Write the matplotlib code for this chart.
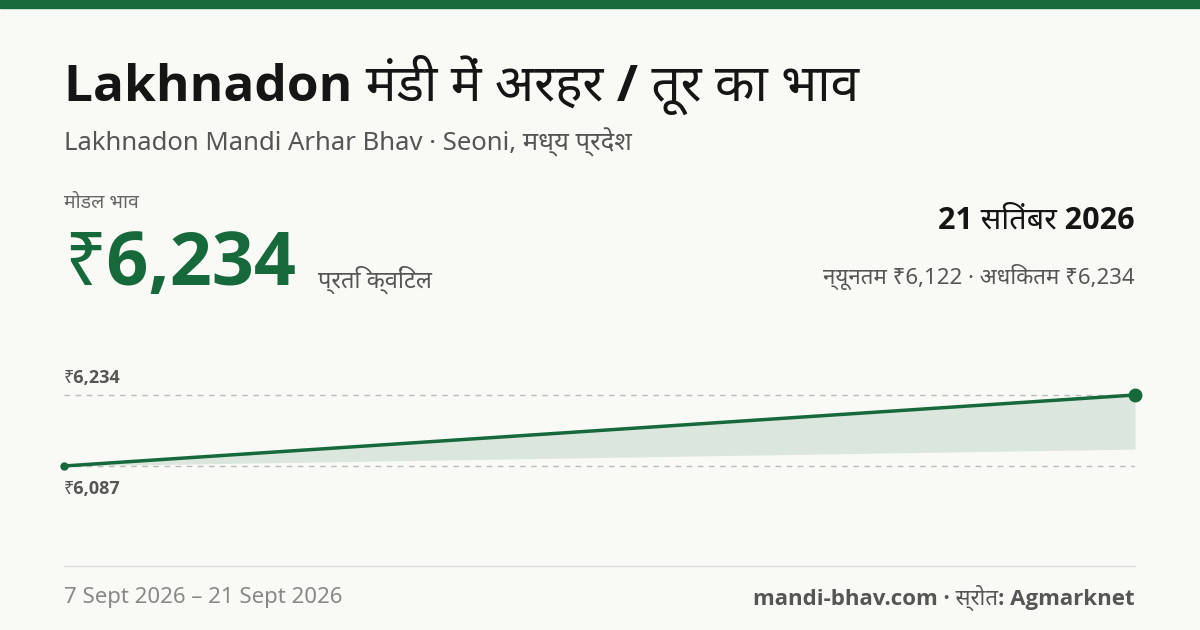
import matplotlib
matplotlib.use("Agg")
import matplotlib.pyplot as plt
import numpy as np
import logging
logging.getLogger('matplotlib.font_manager').setLevel(logging.ERROR)

dates = ["7 Sept 2026", "21 Sept 2026"]
day_offsets = [0, 14]
modal = [6087, 6234]
minimum = [6087, 6122]
max_latest = 6234

FAM = ['Noto Sans', 'DejaVu Sans']
BFAM = ['Open Sans', 'Noto Sans', 'DejaVu Sans']
plt.rcParams['font.family'] = FAM
GREEN = '#16693a'
BG = '#f9f9f6'

fig = plt.figure(figsize=(12, 6.3), dpi=100, facecolor=BG)
W, H = 1200, 630
def fx(x): return x / W
def fy(y): return 1 - y / H

fig.patches.append(plt.Rectangle((0, fy(8)), 1, 8 / H, transform=fig.transFigure, color=GREEN))
fig.text(fx(64), fy(85), "Lakhnadon मंडी में अरहर / तूर का भाव", fontsize=37, weight='bold', family=BFAM, color='#151515', va='center')
fig.text(fx(64), fy(142), "Lakhnadon Mandi Arhar Bhav · Seoni, मध्य प्रदेश", fontsize=18.5, color='#555', va='center')
fig.text(fx(64), fy(203), "मोडल भाव", fontsize=14, color='#666', va='center')
fig.text(fx(64), fy(266), f"₹{modal[-1]:,}", fontsize=53, weight='bold', family=BFAM, color=GREEN, va='center')
fig.text(fx(318), fy(280), "प्रति क्विंटल", fontsize=17, color='#555', va='center')
fig.text(fx(1135), fy(220), "21 सितंबर 2026", fontsize=22, weight='bold', family=BFAM, color='#151515', va='center', ha='right')
fig.text(fx(1135), fy(277), f"न्यूनतम ₹{minimum[-1]:,} · अधिकतम ₹{max_latest:,}", fontsize=16, color='#555', va='center', ha='right')

ax = fig.add_axes([fx(64), fy(480), (1135 - 64) / W, 100 / H])
ax.set_facecolor('none')
ax.set_xlim(0, 14)
ax.set_ylim(6058, 6265)
ax.axis('off')
for v in (max(modal), min(modal)):
    ax.axhline(v, color='#bbb', lw=1, ls=(0, (4, 4)))
ax.fill_between(day_offsets, minimum, modal, color=GREEN, alpha=0.13, lw=0)
ax.plot(day_offsets, modal, color=GREEN, lw=2.5)
ax.plot(day_offsets[-1], modal[-1], 'o', color=GREEN, ms=9, clip_on=False)
ax.plot(day_offsets[0], modal[0], 'o', color=GREEN, ms=5, clip_on=False)

fig.text(fx(64), fy(378), f"₹{max(modal):,}", fontsize=13, weight='bold', family=BFAM, color='#555', va='center')
fig.text(fx(64), fy(489), f"₹{min(modal):,}", fontsize=13, weight='bold', family=BFAM, color='#555', va='center')

fig.add_artist(plt.Line2D([fx(64), fx(1135)], [fy(566), fy(566)], transform=fig.transFigure, color='#ddd', lw=1))
fig.text(fx(64), fy(598), f"{dates[0]} – {dates[1]}", fontsize=16, color='#888', va='center')
fig.text(fx(1135), fy(598), "mandi-bhav.com · स्रोत: Agmarknet", fontsize=16, weight='bold', family=BFAM, color='#555', va='center', ha='right')

fig.savefig("out.png", dpi=100, facecolor=BG)
